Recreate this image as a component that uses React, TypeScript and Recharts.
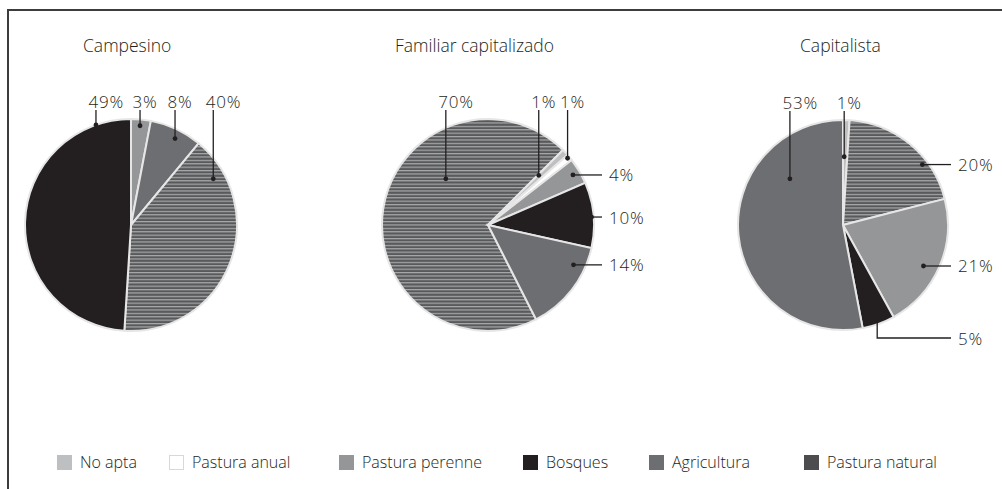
import React from "react";
import { PieChart, Pie, Cell, Legend } from "recharts";

// categories as shown in the legend
const categories = ["No apta", "Pastura anual", "Pastura perenne", "Bosques", "Agricultura", "Pastura natural"];

const campesinoCats = ["Pastura perenne", "Agricultura", "Pastura natural", "Bosques"];
const campesinoValues = [3, 8, 40, 49];

const familiarCats = ["Pastura natural", "No apta", "Pastura anual", "Pastura perenne", "Bosques", "Agricultura"];
const familiarValues = [70, 1, 1, 4, 10, 14];

const capitalistaCats = ["No apta", "Pastura natural", "Pastura perenne", "Bosques", "Agricultura"];
const capitalistaValues = [1, 20, 21, 5, 53];

const fills: Record<string, string> = {
  "No apta": "#bebfc1",
  "Pastura anual": "#ffffff",
  "Pastura perenne": "#959698",
  Bosques: "#231f20",
  Agricultura: "#6d6e71",
  "Pastura natural": "url(#stripes)",
};
const legendFills: Record<string, string> = { ...fills, "Pastura natural": "#4d4d4f" };
const legendLeft = [57, 169, 339, 523, 649, 804];

const FONT = "'Open Sans', 'Noto Sans', sans-serif";
const INK = "#231f20";

// label placement: [side, angle clockwise from 12 o'clock, radius fraction]
type Place = [string, number, number];
const campesinoPlace: Place[] = [["top", 5.2, 0.94], ["top", 27, 0.915], ["top", 60.7, 0.89], ["top", -19.3, 1.0]];
const familiarPlace: Place[] = [["top", -42.4, 0.59], ["top", 45.6, 0.67], ["top", 50, 0.98], ["right", 59.5, 0.93], ["right", 85.6, 0.98], ["right", 115, 0.89]];
const capitalistaPlace: Place[] = [["top", 1, 0.65], ["right", 52.7, 0.95], ["right", 117, 0.86], ["elbow", 159.5, 0.93], ["top", -49, 0.67]];

const makeLabel = (place: Place[], gap: number) => (props: any) => {
  const { cx, cy, outerRadius, index } = props;
  const value = props.value ?? props.payload?.value;
  const [side, ang, rf] = place[index];
  const rad = (ang * Math.PI) / 180;
  const dx = cx + Math.sin(rad) * outerRadius * rf;
  const dy = cy - Math.cos(rad) * outerRadius * rf;
  const txt = `${value}%`;
  const textProps = { fontFamily: FONT, fontSize: 17, fontWeight: 300, fill: INK, letterSpacing: 0.8 };
  if (side === "top") {
    const ty = cy - outerRadius - 11;
    return (
      <g key={`l${index}`}>
        <line x1={dx} y1={ty + 2} x2={dx} y2={dy} stroke={INK} strokeWidth={1.3} />
        <circle cx={dx} cy={dy} r={2.4} fill={INK} />
        <text x={dx - 7.5} y={ty} {...textProps}>{txt}</text>
      </g>
    );
  }
  const tx = cx + outerRadius + gap;
  if (side === "right") {
    return (
      <g key={`l${index}`}>
        <line x1={dx} y1={dy} x2={tx - 7} y2={dy} stroke={INK} strokeWidth={1.3} />
        <circle cx={dx} cy={dy} r={2.4} fill={INK} />
        <text x={tx} y={dy} dominantBaseline="central" {...textProps}>{txt}</text>
      </g>
    );
  }
  const ly = cy + outerRadius + 8;
  return (
    <g key={`l${index}`}>
      <path d={`M${dx},${dy}V${ly}H${tx - 7}`} fill="none" stroke={INK} strokeWidth={1.3} />
      <text x={tx} y={ly} dominantBaseline="central" {...textProps}>{txt}</text>
    </g>
  );
};

const charts = [
  { title: "Campesino", titleX: 83, cats: campesinoCats, values: campesinoValues, cx: 131, r: 106, start: 90, place: campesinoPlace, gap: 12 },
  { title: "Familiar capitalizado", titleX: 395, cats: familiarCats, values: familiarValues, cx: 488, r: 106, start: -63, place: familiarPlace, gap: 15 },
  { title: "Capitalista", titleX: 800, cats: capitalistaCats, values: capitalistaValues, cx: 843, r: 105, start: 90, place: capitalistaPlace, gap: 10 },
];

const LegendContent = () => (
  <div style={{ position: "relative", width: 1002, height: 30 }}>
    {categories.map((c, i) => (
      <div key={c} style={{ position: "absolute", left: legendLeft[i], top: 0, display: "flex", alignItems: "center", height: 30 }}>
        <span
          style={{
            display: "inline-block",
            width: 15,
            height: 15,
            background: legendFills[c],
            border: c === "Pastura anual" ? "1px solid #d8d8d8" : "none",
            boxSizing: "border-box",
            marginRight: 8,
          }}
        />
        <span style={{ fontFamily: FONT, fontSize: 16, fontWeight: 300, color: INK, whiteSpace: "nowrap" }}>{c}</span>
      </div>
    ))}
  </div>
);

export default function App() {
  return (
    <div style={{ position: "absolute", left: 0, top: 0, width: 1002, height: 489, background: "#fff", overflow: "hidden" }}>
      <div style={{ position: "absolute", left: 7, top: 9, width: 1000, height: 490, borderLeft: "2px solid #3c3c3c", borderTop: "2px solid #3c3c3c" }} />
      {charts.map((c) => (
        <div
          key={c.title}
          style={{ position: "absolute", left: c.titleX, top: 37, fontFamily: FONT, fontSize: 17.5, fontWeight: 300, lineHeight: 1, color: INK, whiteSpace: "nowrap" }}
        >
          {c.title}
        </div>
      ))}
      <PieChart width={1002} height={489} margin={{ top: 0, right: 0, bottom: 0, left: 0 }} style={{ position: "absolute", left: 0, top: 0 }}>
        <defs>
          <pattern id="stripes" patternUnits="userSpaceOnUse" width={8} height={3.4}>
            <rect x={0} y={0} width={8} height={3.4} fill="#58595b" />
            <rect x={0} y={0} width={8} height={1.2} fill="#a9aaac" />
          </pattern>
        </defs>
        {charts.map((c) => (
          <Pie
            key={c.title}
            data={c.cats.map((name, i) => ({ name, value: c.values[i] }))}
            dataKey="value"
            nameKey="name"
            cx={c.cx}
            cy={225}
            outerRadius={c.r}
            startAngle={c.start}
            endAngle={c.start - 360}
            stroke="#e6e6e6"
            strokeWidth={2}
            label={makeLabel(c.place, c.gap)}
            labelLine={false}
            isAnimationActive={false}
          >
            {c.cats.map((name) => (
              <Cell key={name} fill={fills[name]} />
            ))}
          </Pie>
        ))}
        <Legend
          content={() => <LegendContent />}
          wrapperStyle={{ position: "absolute", left: 0, top: 447, bottom: "auto", width: 1002, height: 30 }}
        />
      </PieChart>
    </div>
  );
}
